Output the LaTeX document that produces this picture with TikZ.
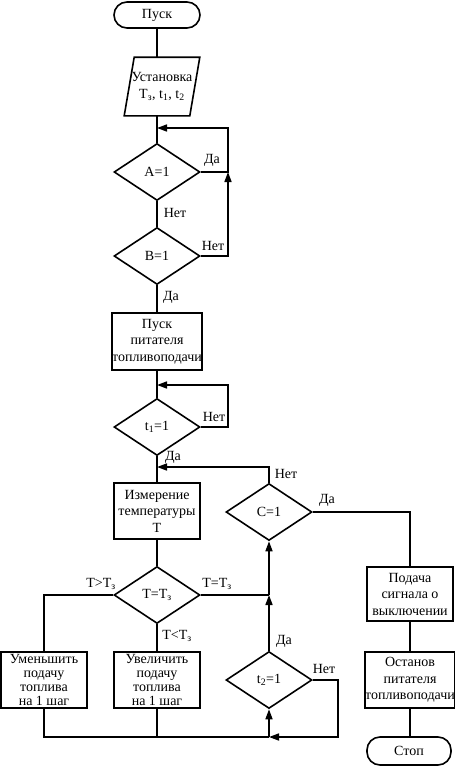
\documentclass[tikz,border=0pt]{standalone}
\usepackage{fontspec}
\setmainfont{Liberation Serif}
\usetikzlibrary{shapes.geometric,arrows.meta}
\begin{document}
\begin{tikzpicture}[x=1pt,y=-1pt,line width=1.6pt,
  every node/.style={font=\fontsize{14}{16.5}\selectfont},
  box/.style={draw,rectangle,minimum width=86pt,minimum height=56pt,inner sep=0pt,align=center},
  tightbox/.style={box,font=\fontsize{14}{14}\selectfont},
  term/.style={draw,rectangle,rounded corners=13pt,minimum width=86pt,minimum height=26pt,inner sep=0pt},
  dec/.style={draw,diamond,minimum width=86pt,minimum height=57pt,inner sep=0pt},
  arr/.style={-{Triangle[length=10pt,width=7pt]}},
  lab/.style={inner sep=0pt}]
\useasboundingbox (0,0) rectangle (455,766);
% nodes
\node[term] (start) at (157,15) {Пуск};
\node[minimum width=74pt,minimum height=57pt,inner sep=0pt,align=center] (inp) at (162,86.5) {Установка\\T\textsubscript{з}, t\textsubscript{1}, t\textsubscript{2}};
\draw ([xshift=10pt]inp.north west) -- (inp.north east) -- ([xshift=-10pt]inp.south east) -- (inp.south west) -- cycle;
\node[dec] (a) at (157,172) {A=1};
\node[dec] (b) at (157,256) {B=1};
\node[box,minimum height=57pt] (p1) at (157,341.5) {Пуск\\питателя\\топливоподачи};
\node[dec] (t1) at (157,427) {t\textsubscript{1}=1};
\node[box] (meas) at (157,511) {Измерение\\температуры\\T};
\node[dec] (tt) at (157,595) {T=T\textsubscript{з}};
\node[tightbox] (dec1) at (44,680) {Уменьшить\\подачу\\топлива\\на 1 шаг};
\node[tightbox] (inc) at (157,680) {Увеличить\\подачу\\топлива\\на 1 шаг};
\node[dec] (t2) at (269,680) {t\textsubscript{2}=1};
\node[dec] (c) at (269,512) {C=1};
\node[box,minimum width=86pt,minimum height=54pt] (sig) at (410,594) {Подача\\сигнала о\\выключении};
\node[box] (stop1) at (410,680) {Останов\\питателя\\топливоподачи};
\node[term,minimum width=84pt,minimum height=28pt] (end) at (409,751) {Стоп};
% coordinates
\coordinate (j1) at (157,128);
\coordinate (lp1) at (228,128);
\coordinate (j2) at (157,385);
\coordinate (lp2) at (228,385);
\coordinate (j3) at (157,467);
\coordinate (j4) at (269,595);
\coordinate (j5) at (269,737);
\coordinate (lp3) at (338,737);
% connectors
\draw (start.south) -- (start.south |- inp.north);
\draw (start.south |- inp.south) -- (a.north);
\draw[arr] (a.east) -| (lp1) -- (j1);
\draw (a.south) -- (b.north);
\draw[arr] (b.east) -| (a.east -| lp1);
\draw (b.south) -- (p1.north);
\draw (p1.south) -- (t1.north);
\draw[arr] (t1.east) -| (lp2) -- (j2);
\draw (t1.south) -- (meas.north);
\draw[arr] (c.north) |- (j3);
\draw (meas.south) -- (tt.north);
\draw (tt.south) -- (inc.north);
\draw (tt.west) -| (dec1.north);
\draw (tt.east) -- (j4);
\draw[arr] (j4) -- (c.south);
\draw[arr] (t2.north) -- (j4);
\draw (dec1.south) |- (j5);
\draw (inc.south) -- (inc.south |- j5);
\draw[arr] (t2.east) -| (lp3) -- (j5);
\draw[arr] (j5) -- (t2.south);
\draw (c.east) -| (sig.north);
\draw (sig.south) -- (stop1.north);
\draw (stop1.south) -- (end.north -| stop1.south);
% labels
\node[lab] (la1) at (212,160) {Да};
\node[lab] (la2) at (175,213) {Нет};
\node[lab] (lb1) at (213,246) {Нет};
\node[lab] (lb2) at (171,297) {Да};
\node[lab] (lt1) at (214,417) {Нет};
\node[lab] (lt2) at (173,457) {Да};
\node[lab] (lc1) at (286,474) {Нет};
\node[lab] (lc2) at (327,500) {Да};
\node[lab] (ltt1) at (101,584) {T>T\textsubscript{з}};
\node[lab] (ltt2) at (217,584) {T=T\textsubscript{з}};
\node[lab] (ltt3) at (177,636) {T<T\textsubscript{з}};
\node[lab] (lt2a) at (284,641) {Да};
\node[lab] (lt2b) at (324,669) {Нет};
\end{tikzpicture}
\end{document}
